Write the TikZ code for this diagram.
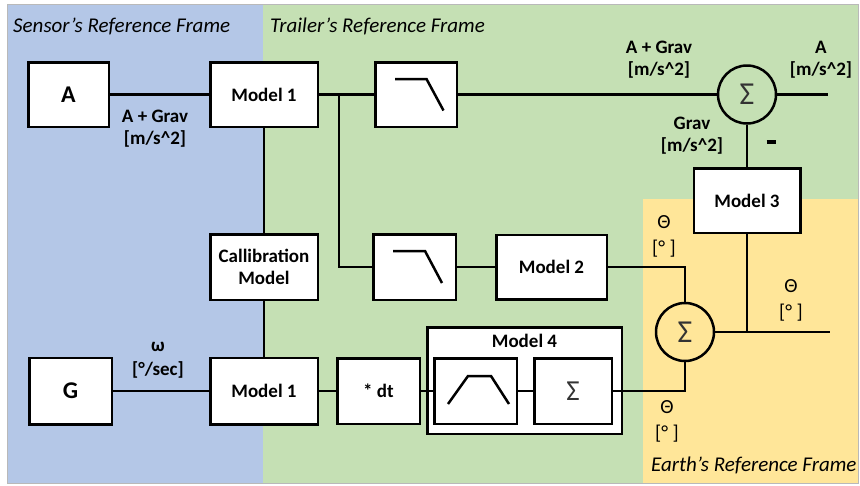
\documentclass[tikz,border=0pt]{standalone}
\usepackage{fontspec}
\setmainfont{Carlito}
\definecolor{sblue}{HTML}{B4C7E7}
\definecolor{tgreen}{HTML}{C5E0B4}
\definecolor{eyellow}{HTML}{FFE699}
\begin{document}
\begin{tikzpicture}[x=1pt,y=-1pt,
  box/.style={draw, fill=white, line width=2.5pt, inner sep=0pt,
    font=\bfseries\fontsize{19}{22}\selectfont, align=center},
  sumc/.style={circle, draw, line width=2.5pt, minimum size=58pt, inner sep=0pt,
    font=\fontsize{32}{32}\selectfont, text=black!80},
  wire/.style={line width=2.5pt},
  icon/.style={line width=2.5pt},
  lbl/.style={font=\bfseries\fontsize{19}{22}\selectfont, align=center, inner sep=0pt},
  thl/.style={font=\fontsize{20}{26}\selectfont, align=center, inner sep=0pt},
  frame/.style={font=\itshape\fontsize{21}{24}\selectfont, inner sep=0pt}
]
\useasboundingbox (0,0) rectangle (860,485);
\fill[white] (0,0) rectangle (860,485);
\fill[sblue] (7,4) rectangle (263,483);
\fill[tgreen] (263,4) rectangle (858,483);
\fill[eyellow] (643,199) rectangle (858,483);
\draw[gray!55, line width=0.8pt] (7,4) rectangle (858,483);

\node[frame, anchor=west] (fs) at (13,26) {Sensor’s Reference Frame};
\node[frame, anchor=west] (ft) at (270,26) {Trailer’s Reference Frame};
\node[frame, anchor=west] (fe) at (651,465) {Earth’s Reference Frame};

% boxes
\node[box, minimum width=80.5pt, minimum height=64.5pt, font=\bfseries\fontsize{24}{26}\selectfont] (A) at (68.5,94.5) {A};
\node[box, minimum width=107.5pt, minimum height=64.5pt] (M1a) at (264,94.5) {Model 1};
\node[box, minimum width=81.5pt, minimum height=64.5pt] (LP1) at (416,94.5) {};
\node[sumc] (S1) at (747,94.5) {Σ};
\node[box, minimum width=106.5pt, minimum height=64.5pt] (M3) at (747,200.5) {Model 3};
\node[box, minimum width=107.5pt, minimum height=65.5pt] (Cal) at (264,267) {Callibration\\Model};
\node[box, minimum width=82.5pt, minimum height=65.5pt] (LP2) at (414.5,267) {};
\node[box, minimum width=110.5pt, minimum height=64.5pt] (M2) at (551.5,267) {Model 2};
\node[sumc] (S2) at (685,332) {Σ};
\node[box, minimum width=82.5pt, minimum height=66.5pt, font=\bfseries\fontsize{24}{26}\selectfont] (G) at (70.5,391) {G};
\node[box, minimum width=107.5pt, minimum height=66.5pt] (M1b) at (264,391) {Model 1};
\node[box, minimum width=82.5pt, minimum height=65.5pt] (dt) at (378.5,391) {* dt};
\node[box, minimum width=194.5pt, minimum height=106.5pt] (M4) at (524.5,380.5) {};
\node[lbl] (M4t) at (524.5,341) {Model 4};
\node[box, minimum width=82.5pt, minimum height=65.5pt] (BP) at (475.5,391) {};
\node[box, minimum width=77.5pt, minimum height=65.5pt, font=\fontsize{29}{29}\selectfont, text=black!80] (IS) at (573,391) {Σ};

% icons
\draw[icon] ([shift={(-21,-15.5)}]LP1.center) -- ([shift={(10.5,-15.5)}]LP1.center) -- ([shift={(27.5,16)}]LP1.center);
\draw[icon] ([shift={(-21.5,-16)}]LP2.center) -- ([shift={(10.5,-16)}]LP2.center) -- ([shift={(27.5,16)}]LP2.center);
\draw[icon] ([shift={(-27.5,13)}]BP.center) -- ([shift={(-7.5,-15)}]BP.center) -- ([shift={(15.5,-15)}]BP.center) -- ([shift={(33.5,13)}]BP.center);

% wires
\coordinate (j1) at (339,94.5);
\coordinate (out1) at (828,94.5);
\coordinate (j2) at (747,332);
\coordinate (out2) at (830,332);
\draw[wire] (A.east) -- (M1a.west);
\draw[wire] (M1a.east) -- (LP1.west);
\draw[wire] (j1) |- (LP2.west);
\draw[wire] (LP1.east) -- (S1.west);
\draw[wire] (S1.east) -- (out1);
\draw[wire] (S1.south) -- (M3.north);
\draw[wire] (M1a.south) -- (Cal.north);
\draw[wire] (Cal.south) -- (M1b.north);
\draw[wire] (LP2.east) -- (M2.west);
\draw[wire] (M2.east) -| (S2.north);
\draw[wire] (G.east) -- (M1b.west);
\draw[wire] (M1b.east) -- (dt.west);
\draw[wire] (dt.east) -- (BP.west);
\draw[wire] (BP.east) -- (IS.west);
\draw[wire] (IS.east) -| (S2.south);
\draw[wire] (S2.east) -- (out2);
\draw[wire] (M3.south) -- (j2);

% labels
\node[lbl] (l1) at (155,129) {A + Grav\\[0pt][m/s\^{}2]};
\node[lbl, font=\bfseries\fontsize{19}{24}\selectfont] (l2) at (158,360) {ω\\[0pt][°/sec]};
\node[lbl] (l3) at (659,59.5) {A + Grav\\[0pt][m/s\^{}2]};
\node[lbl] (l4) at (821,59.5) {A\\[0pt][m/s\^{}2]};
\node[lbl] (l5) at (692,136) {Grav\\[0pt][m/s\^{}2]};
\node[inner sep=0pt] (l6) at (771,142) {\rule{9pt}{4pt}};
\node[thl] (t1) at (664,236) {Θ\\[0pt][° ]};
\node[thl] (t2) at (667,421) {Θ\\[0pt][° ]};
\node[thl] (t3) at (791,300.5) {Θ\\[0pt][° ]};
\end{tikzpicture}
\end{document}
